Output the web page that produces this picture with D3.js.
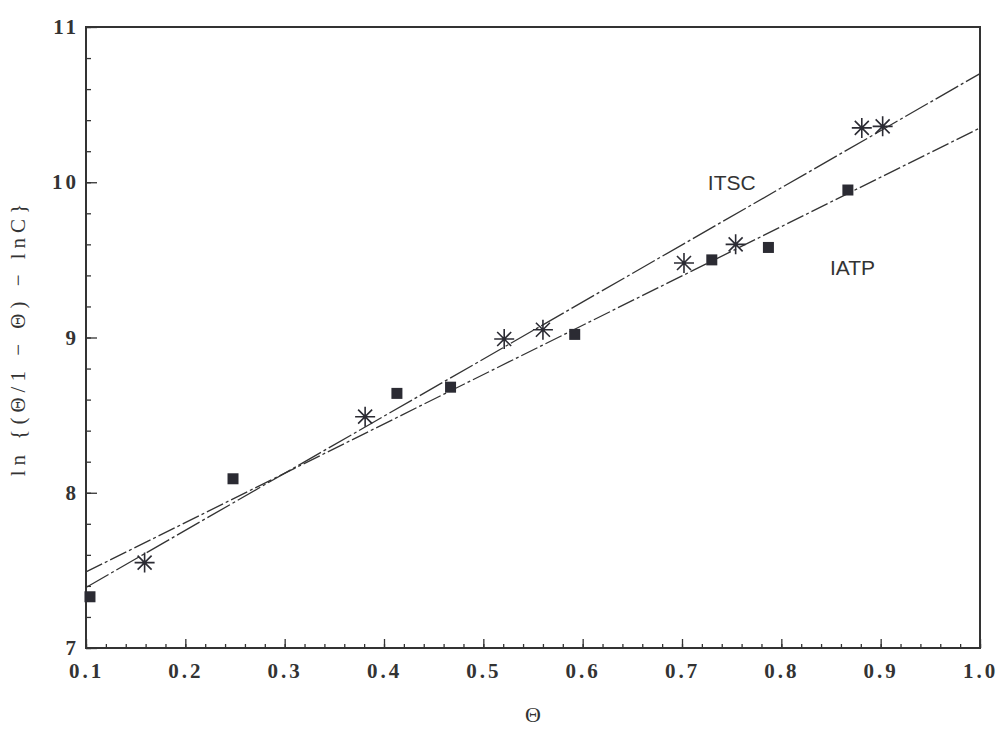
<!DOCTYPE html>
<html>
<head>
<meta charset="utf-8">
<script src="https://cdn.jsdelivr.net/npm/d3@7"></script>
<style>
  body { margin: 0; background: #fff; }
  .tick text { font-family: "Liberation Serif", "DejaVu Serif", serif; }
</style>
</head>
<body>
<div id="chart"></div>
<script>
// IATP points (filled squares)
var iatpTheta = [0.104, 0.248, 0.413, 0.467, 0.592, 0.730, 0.787, 0.867];
var iatpLn    = [7.33, 8.09, 8.64, 8.68, 9.02, 9.50, 9.58, 9.95];
// ITSC points (stars)
var itscTheta = [0.159, 0.381, 0.521, 0.560, 0.702, 0.754, 0.881, 0.902];
var itscLn    = [7.55, 8.49, 8.99, 9.05, 9.48, 9.60, 10.35, 10.36];
// fitted lines, [theta, value] at both ends
var itscFit = [[0.1, 7.39], [1.0, 10.70]];
var iatpFit = [[0.1, 7.49], [1.0, 10.35]];

var xTicks = [0.1, 0.2, 0.3, 0.4, 0.5, 0.6, 0.7, 0.8, 0.9, 1.0];
var yTicks = [7, 8, 9, 10, 11];

var margin = {top: 27, right: 20, bottom: 81, left: 86},
    width = 1000 - margin.left - margin.right,
    height = 729 - margin.top - margin.bottom,
    ink = "#333";

var x = d3.scaleLinear().domain([0.1, 1.0]).range([0, width]),
    y = d3.scaleLinear().domain([7, 11]).range([height, 0]);

var svg = d3.select("#chart").append("svg")
    .attr("width", 1000)
    .attr("height", 729)
  .append("g")
    .attr("transform", "translate(" + margin.left + "," + margin.top + ")");

// minor ticks
var xMinor = d3.range(0.1, 1.0001, 0.02).map(function(v) { return +v.toFixed(2); });
var yMinor = d3.range(7, 11.0001, 0.2).map(function(v) { return +v.toFixed(1); });

svg.append("g")
    .attr("transform", "translate(0," + height + ")")
    .call(d3.axisBottom(x).tickValues(xMinor).tickSize(-4).tickFormat(""))
    .call(function(g) { g.select(".domain").remove(); });

svg.append("g")
    .call(d3.axisLeft(y).tickValues(yMinor).tickSize(-5).tickFormat(""))
    .call(function(g) { g.select(".domain").remove(); });

// major ticks + labels
var xAxis = svg.append("g")
    .attr("transform", "translate(0," + height + ")")
    .call(d3.axisBottom(x).tickValues(xTicks).tickSize(-9).tickPadding(15).tickFormat(d3.format(".1f")));
xAxis.select(".domain").remove();
xAxis.selectAll("text").style("font-size", "21px").style("font-weight", "bold")
    .style("letter-spacing", "3px").attr("fill", ink);

var yAxis = svg.append("g")
    .call(d3.axisLeft(y).tickValues(yTicks).tickSize(-11).tickPadding(7).tickFormat(d3.format("d")));
yAxis.select(".domain").remove();
yAxis.selectAll("text").style("font-size", "21px").style("font-weight", "bold")
    .style("letter-spacing", "3px").attr("fill", ink);

svg.selectAll(".tick line").attr("stroke", ink).attr("stroke-width", 1.3);

// frame
svg.append("rect")
    .attr("width", width)
    .attr("height", height)
    .attr("fill", "none")
    .attr("stroke", ink)
    .attr("stroke-width", 2);

// fitted lines
var line = d3.line().x(function(d) { return x(d[0]); }).y(function(d) { return y(d[1]); });

svg.append("path")
    .datum(itscFit)
    .attr("d", line)
    .attr("fill", "none")
    .attr("stroke", ink)
    .attr("stroke-width", 1.3)
    .attr("stroke-dasharray", "26,3,3,3");

svg.append("path")
    .datum(iatpFit)
    .attr("d", line)
    .attr("fill", "none")
    .attr("stroke", ink)
    .attr("stroke-width", 1.3)
    .attr("stroke-dasharray", "18,3,3,3");

// squares
var sq = 11;
svg.selectAll(".sq")
    .data(iatpTheta.map(function(t, i) { return [t, iatpLn[i]]; }))
    .enter().append("rect")
    .attr("class", "sq")
    .attr("x", function(d) { return x(d[0]) - sq / 2; })
    .attr("y", function(d) { return y(d[1]) - sq / 2; })
    .attr("width", sq)
    .attr("height", sq)
    .attr("fill", "#2b2b33");

// stars
var r = 10, k = r * 0.7;
var starPath = "M" + (-r) + ",0L" + r + ",0M0," + (-r) + "L0," + r +
    "M" + (-k) + "," + (-k) + "L" + k + "," + k + "M" + (-k) + "," + k + "L" + k + "," + (-k);
svg.selectAll(".star")
    .data(itscTheta.map(function(t, i) { return [t, itscLn[i]]; }))
    .enter().append("path")
    .attr("class", "star")
    .attr("transform", function(d) { return "translate(" + x(d[0]) + "," + y(d[1]) + ")"; })
    .attr("d", starPath)
    .attr("fill", "none")
    .attr("stroke", "#2b2b33")
    .attr("stroke-width", 1.6);

// series labels
svg.append("text")
    .attr("x", x(0.726))
    .attr("y", y(10.0))
    .attr("dy", "0.35em")
    .style("font-family", "Liberation Sans, Arial, sans-serif")
    .style("font-size", "21px")
    .attr("fill", ink)
    .text("ITSC");

svg.append("text")
    .attr("x", x(0.849))
    .attr("y", y(9.45))
    .attr("dy", "0.35em")
    .style("font-family", "Liberation Sans, Arial, sans-serif")
    .style("font-size", "21px")
    .attr("fill", ink)
    .text("IATP");

// axis titles
svg.append("text")
    .attr("x", width / 2)
    .attr("y", height + 74)
    .attr("text-anchor", "middle")
    .style("font-family", "Liberation Serif, serif")
    .style("font-size", "22px")
    .attr("fill", ink)
    .text("Θ");

svg.append("text")
    .attr("transform", "translate(" + (-61) + "," + y(9.0) + ") rotate(-90)")
    .attr("text-anchor", "middle")
    .style("font-family", "Liberation Serif, serif")
    .style("font-size", "21px")
    .style("letter-spacing", "5px")
    .attr("fill", ink)
    .text("ln {(Θ/1 − Θ) − lnC}");
</script>
</body>
</html>
